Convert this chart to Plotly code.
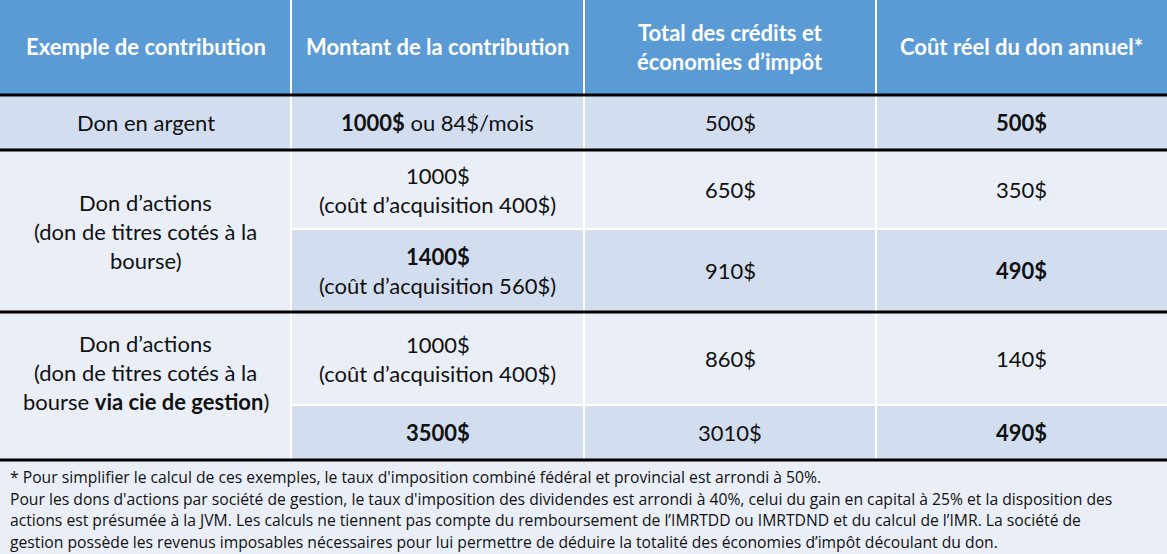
import plotly.graph_objects as go

# ---------------- data ----------------
headers = ["Exemple de contribution", "Montant de la contribution",
           "Total des crédits et<br>économies d’impôt", "Coût réel du don annuel*"]
examples = ["Don en argent",
            "Don d’actions<br>(don de titres cotés à la<br>bourse)",
            "Don d’actions<br>(don de titres cotés à la<br>bourse <b>via cie de gestion</b>)"]
montants = ["<b>1000$</b> ou 84$/mois",
            "1000$<br>(coût d’acquisition 400$)",
            "<b>1400$</b><br>(coût d’acquisition 560$)",
            "1000$<br>(coût d’acquisition 400$)",
            "<b>3500$</b>"]
credits = [500, 650, 910, 860, 3010]
couts = [500, 350, 490, 140, 490]
cout_bold = [True, False, True, False, True]
row_group = [0, 1, 1, 2, 2]
footnotes = [
    "* Pour simplifier le calcul de ces exemples, le taux d'imposition combiné fédéral et provincial est arrondi à 50%.",
    "Pour les dons d'actions par société de gestion, le taux d'imposition des dividendes est arrondi à 40%, celui du gain en capital à 25% et la disposition des",
    "actions est présumée à la JVM. Les calculs ne tiennent pas compte du remboursement de l’IMRTDD ou IMRTDND et du calcul de l’IMR. La société de",
    "gestion possède les revenus imposables nécessaires pour lui permettre de déduire la totalité des économies d’impôt découlant du don.",
]

# ---------------- layout geometry ----------------
W, H = 1167, 554
col_edges = [0, 291, 584, 876, 1167]
header_bottom = 95
sub_edges = [95, 150, 229, 312, 405, 460]
group_edges = [95, 150, 312, 460]
group_label_shift = [0, 0, -14]
line_gap = 29
foot_top, foot_y0, foot_gap = 461, 477, 21.7

HEAD = "#5B9BD5"
DARK = "#D2DEEF"
LIGHT = "#E9EEF7"
FONT = "Lato, Open Sans, sans-serif"
TXT = "#111111"
BODY_SIZE = 22
HEAD_SIZE = 22

fig = go.Figure()
shapes = []
annotations = []


def rect(x0, x1, y0, y1, color):
    shapes.append(dict(type="rect", xref="x", yref="y", x0=x0, x1=x1, y0=y0, y1=y1,
                       fillcolor=color, line=dict(width=0), layer="below"))


def line(x0, x1, y0, y1, color, width):
    shapes.append(dict(type="line", xref="x", yref="y", x0=x0, x1=x1, y0=y0, y1=y1,
                       line=dict(color=color, width=width), layer="above"))


def text_block(txt, xc, yc, size, color, bold=False, gap=line_gap):
    lines = txt.split("<br>")
    n = len(lines)
    for i, ln in enumerate(lines):
        t = f"<b>{ln}</b>" if bold else ln
        annotations.append(dict(x=xc, y=yc + (i - (n - 1) / 2) * gap, xref="x", yref="y",
                                text=t, showarrow=False, xanchor="center", yanchor="middle",
                                font=dict(family=FONT, size=size, color=color)))


# header
rect(0, W, 0, header_bottom, HEAD)
for c, h in enumerate(headers):
    text_block(h, (col_edges[c] + col_edges[c + 1]) / 2, header_bottom / 2 - 1, HEAD_SIZE, "white", bold=True)

# column 1 (merged groups)
for g, ex in enumerate(examples):
    y0, y1 = group_edges[g], group_edges[g + 1]
    rect(col_edges[0], col_edges[1], y0, y1, DARK if g == 0 else LIGHT)
    text_block(ex, (col_edges[0] + col_edges[1]) / 2, (y0 + y1) / 2 + group_label_shift[g], BODY_SIZE, TXT)

# sub rows
for r in range(len(montants)):
    y0, y1 = sub_edges[r], sub_edges[r + 1]
    color = DARK if r % 2 == 0 else LIGHT
    rect(col_edges[1], W, y0, y1, color)
    yc = (y0 + y1) / 2
    text_block(montants[r], (col_edges[1] + col_edges[2]) / 2, yc, BODY_SIZE, TXT)
    text_block(f"{credits[r]}$", (col_edges[2] + col_edges[3]) / 2, yc, BODY_SIZE, TXT)
    text_block(f"{couts[r]}$", (col_edges[3] + col_edges[4]) / 2, yc, BODY_SIZE, TXT, bold=cout_bold[r])

# footnote area
rect(0, W, foot_top, H, LIGHT)
for i, fn in enumerate(footnotes):
    annotations.append(dict(x=8, y=foot_y0 + i * foot_gap, xref="x", yref="y", text=fn,
                            showarrow=False, xanchor="left", yanchor="middle",
                            font=dict(family="Open Sans, sans-serif", size=15.7, color=TXT)))

# white grid lines
for xe in col_edges[1:-1]:
    line(xe, xe, 0, group_edges[-1], "white", 2)
for r in range(1, len(montants)):
    if row_group[r] == row_group[r - 1]:
        line(col_edges[1], W, sub_edges[r], sub_edges[r], "white", 2)

# black separators
for ye in [header_bottom] + group_edges[1:]:
    line(0, W, ye, ye, "black", 3)

fig.update_layout(
    width=W, height=H,
    margin=dict(l=0, r=0, t=0, b=0),
    paper_bgcolor="white", plot_bgcolor="white",
    xaxis=dict(range=[0, W], visible=False, fixedrange=True),
    yaxis=dict(range=[H, 0], visible=False, fixedrange=True),
    shapes=shapes, annotations=annotations, showlegend=False,
)
fig.write_html("out.html", config={"displayModeBar": False})

# remove the default page margin so the figure sits at the window's top-left corner
with open("out.html", encoding="utf-8") as f:
    html = f.read()
html = html.replace("<head>", "<head><style>html,body{margin:0;padding:0;overflow:hidden;}</style>", 1)
with open("out.html", "w", encoding="utf-8") as f:
    f.write(html)
